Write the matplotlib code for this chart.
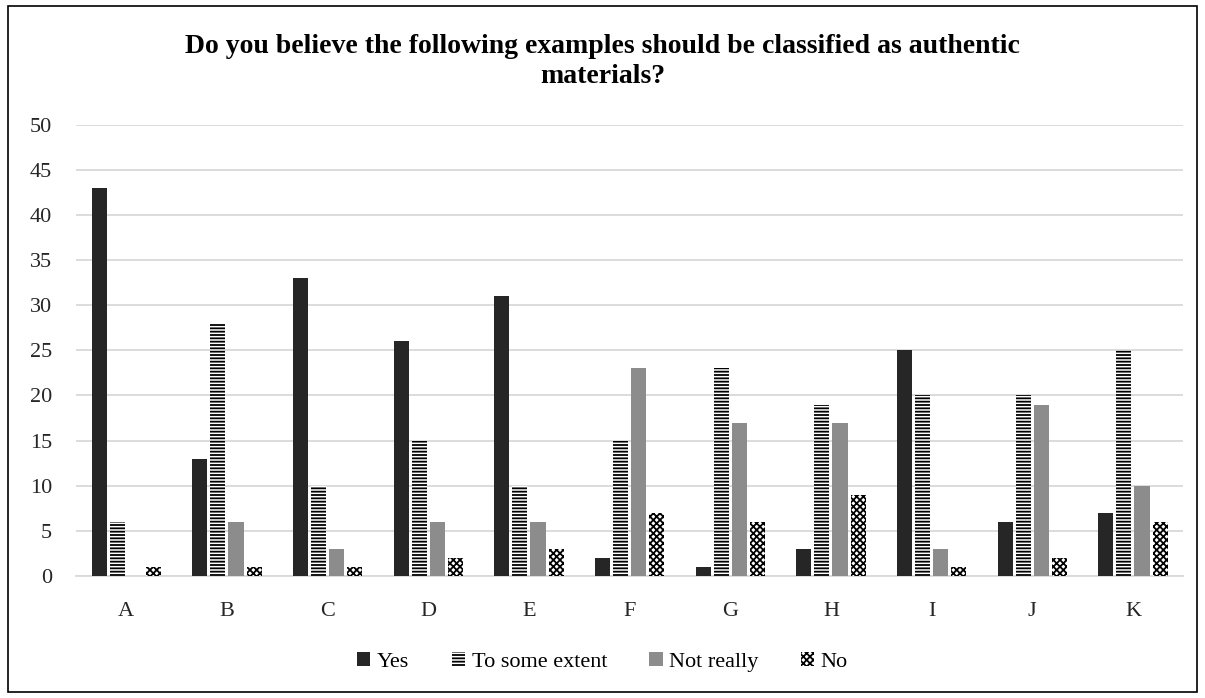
import numpy as np
import matplotlib.pyplot as plt
from matplotlib.patches import Rectangle

categorias = ["A", "B", "C", "D", "E", "F", "G", "H", "I", "J", "K"]
series = ["Yes", "To some extent", "Not really", "No"]
yes = [43, 13, 33, 26, 31, 2, 1, 3, 25, 6, 7]
to_some_extent = [6, 28, 10, 15, 10, 15, 23, 19, 20, 20, 25]
not_really = [0, 6, 3, 6, 6, 23, 17, 17, 3, 19, 10]
no = [1, 1, 1, 2, 3, 7, 6, 9, 1, 2, 6]

plt.rcParams['font.family'] = ['Liberation Serif', 'DejaVu Serif']
plt.rcParams['hatch.linewidth'] = 1.3

fig = plt.figure(figsize=(12.05, 6.98), dpi=100)
ax = fig.add_axes([0.063, 0.175, 0.919, 0.646])

# moldura em volta do grafico
fig.patches.append(Rectangle((0.007, 0.009), 0.986, 0.982, transform=fig.transFigure,
                             fill=False, edgecolor='black', linewidth=1.2))

x = np.arange(len(categorias))
larg = 0.15
passo = 0.18
estilos = [
    dict(color='#262626'),
    dict(facecolor='white', edgecolor='black', hatch='-----', linewidth=0),
    dict(color='#8c8c8c'),
    dict(facecolor='white', edgecolor='black', hatch='xxxxx', linewidth=0),
]
valores = [yes, to_some_extent, not_really, no]
for i, (nome, vals, st) in enumerate(zip(series, valores, estilos)):
    ax.bar(x + (i - 1.5) * passo, vals, larg, label=nome, zorder=3, **st)

ax.set_xlim(-0.5, len(categorias) - 0.5)
ax.set_ylim(0, 50)
ax.set_yticks(range(0, 51, 5))
ax.set_xticks(x)
ax.set_xticklabels(categorias)
ax.grid(axis='y', color='#d9d9d9', linewidth=1.3, zorder=0)
for s in ['top', 'right', 'left']:
    ax.spines[s].set_visible(False)
ax.spines['bottom'].set_color('#d9d9d9')
ax.spines['bottom'].set_linewidth(1.3)
ax.tick_params(axis='both', length=0, labelsize=16, colors='#262626')
ax.tick_params(axis='y', pad=17)
ax.tick_params(axis='x', pad=19)

fig.text(0.5, 0.912, "Do you believe the following examples should be classified as authentic\nmaterials?",
         ha='center', va='center', fontsize=20, fontweight='bold', linespacing=1.3)

fig.legend(loc='center', bbox_to_anchor=(0.5, 0.052), ncol=4, frameon=False,
           fontsize=16, handlelength=0.6, handleheight=0.6, handletextpad=0.3,
           columnspacing=1.9)

fig.savefig("out.png", dpi=100)
